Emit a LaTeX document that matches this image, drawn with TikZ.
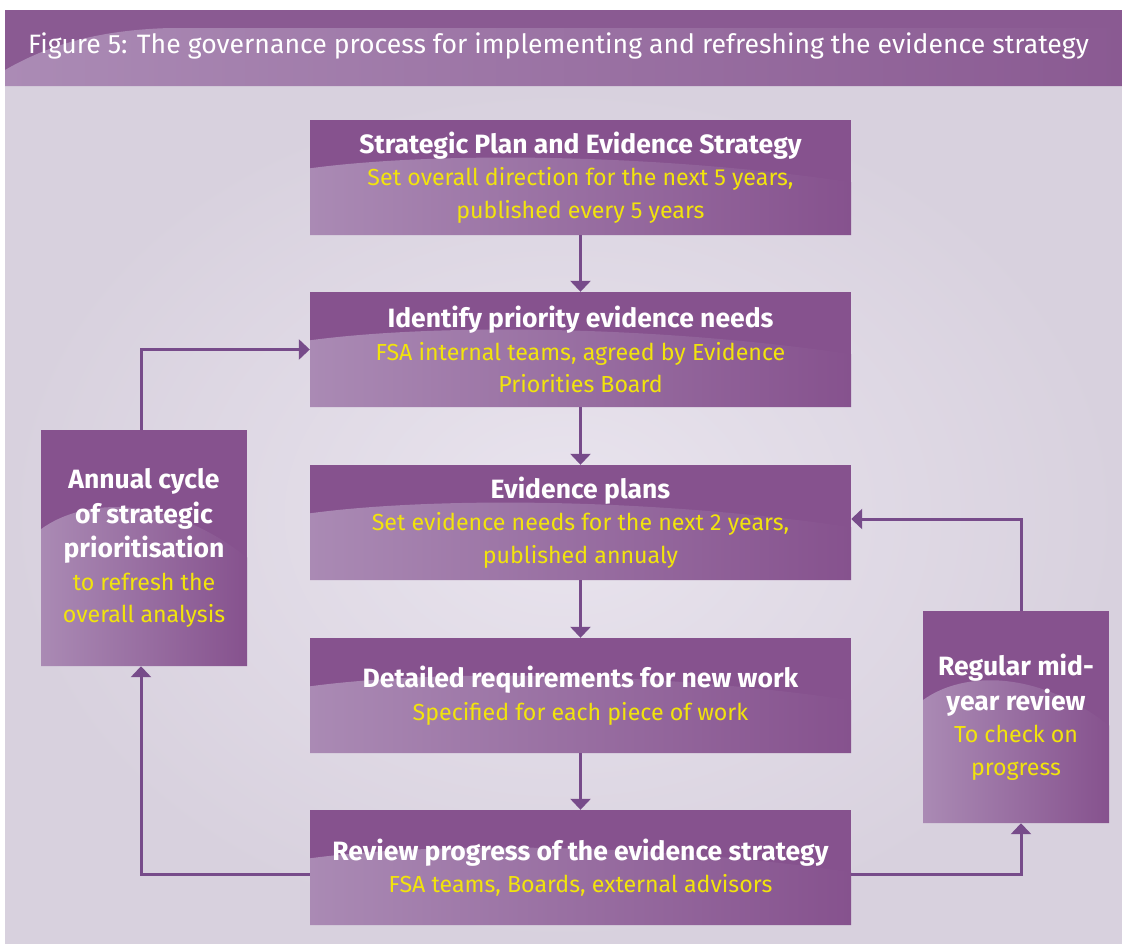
\documentclass[tikz,border=0pt]{standalone}
\usepackage{fontspec}
\setmainfont{Fira Sans}
\usetikzlibrary{positioning}
\usetikzlibrary{calc}
\usetikzlibrary{arrows.meta}

\definecolor{boxdark}{HTML}{86528E}
\definecolor{boxlight}{HTML}{AA8AB4}
\definecolor{headdark}{HTML}{8A5A92}
\definecolor{headlight}{HTML}{AB8BB5}
\definecolor{linepurple}{HTML}{774B8A}
\definecolor{noteyellow}{HTML}{F2E40C}
\definecolor{panelout}{HTML}{D8D1DE}
\definecolor{panelin}{HTML}{E9E4EE}

\newcommand{\boxnote}[1]{{\color{noteyellow}#1}}
\newcommand{\boxhead}[1]{{\bfseries\fontsize{26.5}{32.5}\selectfont #1}}

\tikzset{
	stagebox/.style={rectangle, fill=boxdark, inner sep=0pt, align=center, text=white,
		font=\fontsize{23.2}{32.5}\selectfont,
		path picture={
			\shade[left color=boxlight, right color=boxdark]
				let \p1=(path picture bounding box.south west),
				    \p2=(path picture bounding box.north east) in
				(\x1,\y1) -- (\x1,{\y1+0.58*(\y2-\y1)})
				.. controls ({\x1+0.22*(\x2-\x1)},{\y1+0.72*(\y2-\y1)})
				and ({\x1+0.62*(\x2-\x1)},{\y1+0.72*(\y2-\y1)})
				.. (\x2,{\y1+0.46*(\y2-\y1)}) -- (\x2,\y1) -- cycle;
		}},
	widebox/.style={stagebox, minimum width=541pt, minimum height=115pt},
	flow/.style={draw=linepurple, line width=3pt, -{Triangle[width=20pt,length=11pt]}},
}

\begin{document}
\begin{tikzpicture}[x=1pt, y=-1pt]

	\useasboundingbox (0,0) rectangle (1122,943);

	% panel and title band
	\shade[inner color=panelin, outer color=panelout] (5,86) rectangle (1122,943);
	\fill[headdark] (5,10) rectangle (1122,86);
	\shade[left color=headlight, right color=headdark]
		(5,86) -- (5,70) .. controls (50,44) and (100,30) .. (170,28) -- (1122,28) -- (1122,86) -- cycle;
	\node[anchor=base west, text=white, inner sep=0pt, font=\fontsize{26.6}{30}\selectfont] (title) at (28,53)
		{Figure 5: The governance process for implementing and refreshing the evidence strategy};

	% main column
	\node[widebox] (plan) at (580.5,177.5)
		{\boxhead{Strategic Plan and Evidence Strategy}\\
		 \boxnote{Set overall direction for the next 5 years,}\\
		 \boxnote{published every 5 years}};
	\node[widebox] (needs) at (580.5,349.5)
		{\boxhead{Identify priority evidence needs}\\
		 \boxnote{FSA internal teams, agreed by Evidence}\\
		 \boxnote{Priorities Board}};
	\node[widebox] (evplans) at (580.5,522.5)
		{\boxhead{Evidence plans}\\
		 \boxnote{Set evidence needs for the next 2 years,}\\
		 \boxnote{published annualy}};
	\node[widebox] (detail) at (580.5,695.5)
		{\boxhead{Detailed requirements for new work}\\
		 \boxnote{Specified for each piece of work}};
	\node[widebox] (review) at (580.5,867.5)
		{\boxhead{Review progress of the evidence strategy}\\
		 \boxnote{FSA teams, Boards, external advisors}};

	% side boxes
	\node[stagebox, minimum width=206pt, minimum height=236pt] (annual) at (144,548)
		{\boxhead{Annual cycle}\\[2pt]
		 \boxhead{of strategic}\\[2pt]
		 \boxhead{prioritisation}\\
		 \boxnote{to refresh the}\\
		 \boxnote{overall analysis}};
	\node[stagebox, minimum width=186pt, minimum height=212pt] (midyear) at (1016,717)
		{\boxhead{Regular mid-}\\[2pt]
		 \boxhead{year review}\\
		 \boxnote{To check on}\\
		 \boxnote{progress}};

	% arrows
	\draw[flow] (plan) -- (needs);
	\draw[flow] (needs) -- (evplans);
	\draw[flow] (evplans) -- (detail);
	\draw[flow] (detail) -- (review);

	\draw[flow] ([yshift=-6.5pt]review.west) -| ([xshift=-3pt]annual.south);
	\draw[flow] ([xshift=-3pt]annual.north) |- (needs.west);
	\draw[flow] ([yshift=-6.5pt]review.east) -| ([xshift=5pt]midyear.south);
	\draw[flow] ([xshift=5pt]midyear.north) |- ([yshift=3.5pt]evplans.east);

\end{tikzpicture}
\end{document}
